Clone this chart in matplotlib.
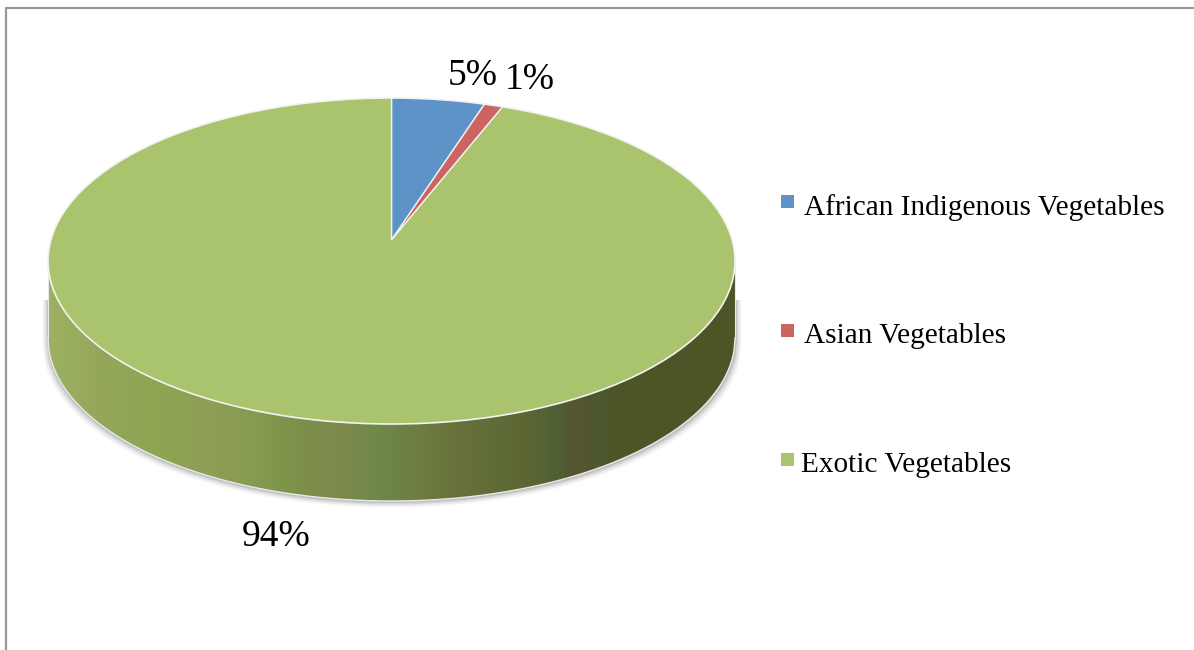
import numpy as np
import matplotlib
matplotlib.use("Agg")
import matplotlib.pyplot as plt
from matplotlib.colors import LinearSegmentedColormap
from matplotlib.patches import Rectangle, Circle
from matplotlib.path import Path

categories = ["African Indigenous Vegetables", "Asian Vegetables", "Exotic Vegetables"]
shares = [5, 1, 94]
share_labels = ["5%", "1%", "94%"]
colors = ["#5E93C8", "#CC6462", "#A9C46C"]

W, H = 1194, 650
cx, cy, rx, ry, depth = 391.5, 261, 343.5, 163, 77
apex_y = 240
plt.rcParams["font.family"] = ["Liberation Serif", "DejaVu Serif"]

fig = plt.figure(figsize=(W / 100, H / 100), dpi=100, facecolor="white")
ax = fig.add_axes([0, 0, 1, 1])


def px(x, y):
    return (x - cx) / rx, (cy - y) / ry


def edge(xs):
    return -np.sqrt(np.clip(1 - xs ** 2, 0, 1))


d = depth / ry
xs = np.linspace(-1, 1, 800)

# soft shadow under the wall
for grow, alpha in [(6, .05), (4.5, .08), (3, .12), (1.5, .18)]:
    sx = np.linspace(-1, 1, 400)
    ax.fill_between(sx * (1 + grow / rx), -d * 0.5, edge(sx) - d - grow / ry, color="#555555",
                    alpha=alpha, lw=0, zorder=1)

# shaded side wall
wall = LinearSegmentedColormap.from_list("wall", [
    (0.00, "#9DB162"), (0.08, "#93A65A"), (0.16, "#8DA652"), (0.22, "#8F9F57"),
    (0.30, "#869B50"), (0.36, "#7C9149"), (0.42, "#7D8A4C"), (0.48, "#6F8848"),
    (0.54, "#6E7C43"), (0.60, "#67703A"), (0.66, "#5F6B37"), (0.70, "#5B6533"),
    (0.74, "#4F5F35"), (0.78, "#57532F"), (0.80, "#4A5A31"), (0.82, "#4D5527"),
    (1.00, "#4D5527")])
im = ax.imshow(wall(np.linspace(0, 1, 700))[None, ...], extent=[-1, 1, -1 - d, 0],
               aspect="auto", interpolation="bilinear", zorder=2)
outline = np.column_stack([np.r_[xs, xs[::-1]], np.r_[edge(xs) - d, edge(xs[::-1])]])
im.set_clip_path(Path(outline), transform=ax.transData)
ax.plot(xs, edge(xs) - d, color="#E8E8E8", lw=1, zorder=3)
ax.plot([-1, -1], [0, -d], color="#E8E8E8", lw=.8, zorder=3)
ax.plot([1, 1], [0, -d], color="#E8E8E8", lw=.8, zorder=3)

# pie top: apex above the ellipse centre, clipped to the ellipse
wedges, _ = ax.pie(shares, colors=colors, startangle=90, counterclock=False, radius=1.3,
                   center=(0, (cy - apex_y) / ry),
                   wedgeprops=dict(edgecolor="#F2F2F2", linewidth=1, zorder=4))
clip = Circle((0, 0), 1, transform=ax.transData)
for w in wedges:
    w.set_clip_on(True)
    w.set_clip_path(clip)
ax.add_patch(Circle((0, 0), 1, fc="none", ec="#F2F2F2", lw=1.2, zorder=5))
ax.set_aspect("auto")
ax.set_xlim(-cx / rx, (W - cx) / rx)
ax.set_ylim((cy - H) / ry, cy / ry)
ax.axis("off")

# data labels
for lab, (lx, ly), fs in zip(share_labels, [(472.5, 76), (530, 80), (276, 537)], [27, 27, 27]):
    ax.text(*px(lx, ly), lab, ha="center", va="center", fontsize=fs, color="black", zorder=6)

# legend
for name, col, sy, tx in zip(categories, colors, [202, 330, 459], [804, 804, 801]):
    fig.add_artist(Rectangle((781 / W, 1 - (sy + 6.5) / H), 13 / W, 13 / H,
                             transform=fig.transFigure, fc=col, ec="none"))
    fig.text(tx / W, 1 - (sy + 6) / H, name, ha="left", va="center", fontsize=21.1, color="black")

# outer frame
frame = plt.Line2D([6 / W, 6 / W, 1], [0, 1 - 8 / H, 1 - 8 / H], transform=fig.transFigure,
                   color="#999999", lw=1.6)
fig.add_artist(frame)

fig.savefig("out.png", dpi=100, facecolor="white")
